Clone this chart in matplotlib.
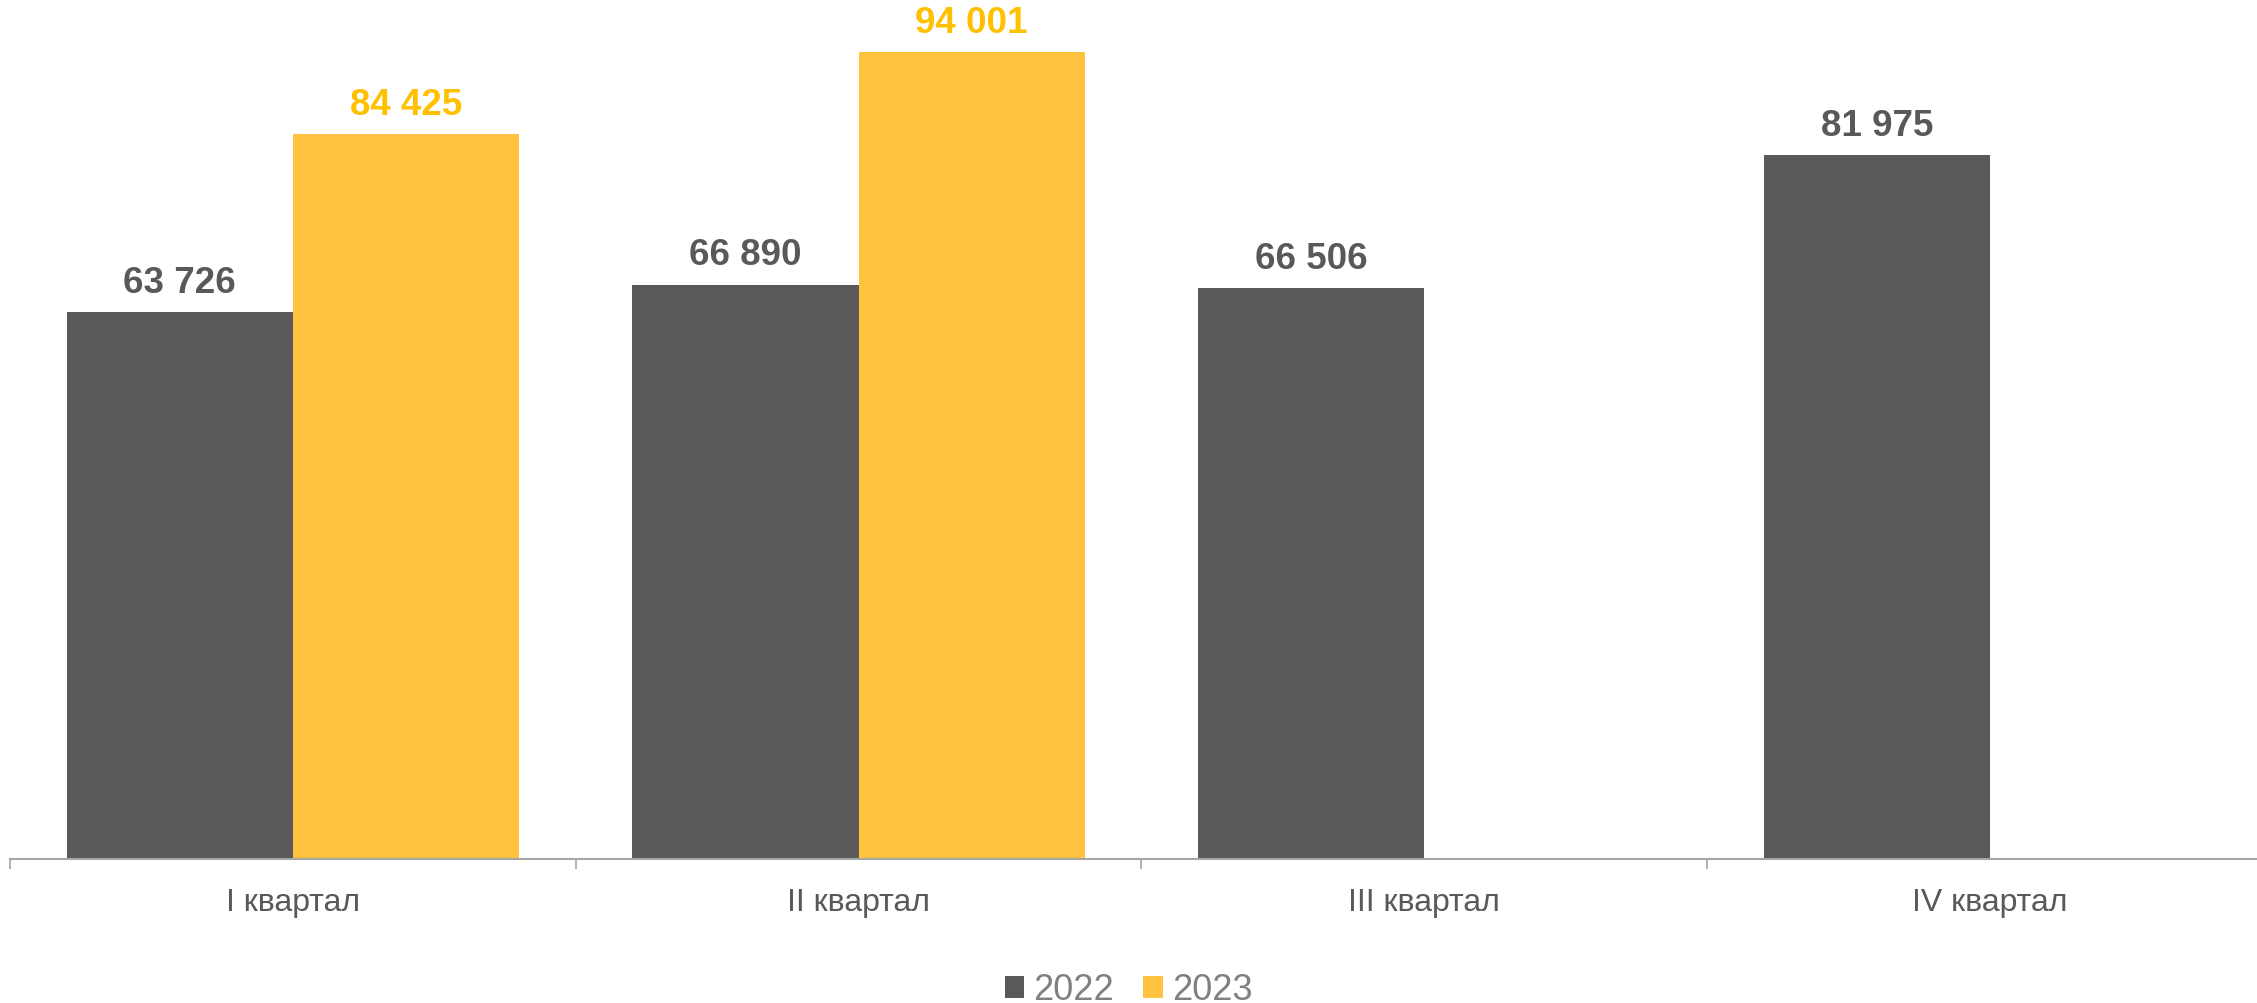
import matplotlib
matplotlib.use("Agg")
import matplotlib.pyplot as plt
import numpy as np
from matplotlib.patches import Patch

categories = ["I квартал", "II квартал", "III квартал", "IV квартал"]
series_names = ["2022", "2023"]
values_2022 = [63726, 66890, 66506, 81975]
values_2023 = [84425, 94001, None, None]

plt.rcParams['font.family'] = ['Liberation Sans', 'DejaVu Sans']

W, H, DPI = 2257, 1004, 100
fig = plt.figure(figsize=(W / DPI, H / DPI), dpi=DPI)

left_px, bottom_px = 10, 860
cat_px = 565.7
px_per_unit = 725 / 84425
ymax = 100000
ax_h_px = ymax * px_per_unit
ax = fig.add_axes([left_px / W, 1 - bottom_px / H, (W - left_px) / W, ax_h_px / H])

x = np.arange(len(categories))
bw = 0.4
c22, c23 = '#595959', '#FFC340'
lab22, lab23 = '#595959', '#FFC000'

def fmt(v):
    return f"{v:,}".replace(",", " ")

for xi, v in zip(x, values_2022):
    if v is None:
        continue
    ax.bar(xi - bw / 2, v, width=bw, color=c22, linewidth=0)
    ax.annotate(fmt(v), (xi - bw / 2, v), xytext=(0, 14.5), textcoords='offset points',
                ha='center', va='baseline', fontsize=26.5, fontweight='bold', color=lab22)
for xi, v in zip(x, values_2023):
    if v is None:
        continue
    ax.bar(xi + bw / 2, v, width=bw, color=c23, linewidth=0)
    ax.annotate(fmt(v), (xi + bw / 2, v), xytext=(0, 14.5), textcoords='offset points',
                ha='center', va='baseline', fontsize=26.5, fontweight='bold', color=lab23)

xmax = -0.5 + (W - left_px) / cat_px
ax.set_xlim(-0.5, xmax)
ax.set_ylim(0, ymax)

for s in ['top', 'right', 'left']:
    ax.spines[s].set_visible(False)
ax.spines['bottom'].set_color('#A6A6A6')
ax.spines['bottom'].set_linewidth(1.5)
ax.set_yticks([])

ax.set_xticks(x)
ax.set_xticklabels(categories, fontsize=23, color='#595959')
ax.tick_params(axis='x', which='major', length=0, pad=20)
ax.set_xticks(np.arange(-0.5, 3.5, 1.0), minor=True)
ax.tick_params(axis='x', which='minor', length=7.5, width=1.2, color='#A6A6A6')

handles = [Patch(facecolor=c22, label=series_names[0]), Patch(facecolor=c23, label=series_names[1])]
leg = fig.legend(handles=handles, loc='center', bbox_to_anchor=(0.5, 1 - 991 / H), ncol=2,
                 frameon=False, fontsize=26, handlelength=0.55, handleheight=0.55,
                 handletextpad=0.25, columnspacing=0.8, labelcolor='#808080')

fig.savefig("out.png", dpi=DPI)
